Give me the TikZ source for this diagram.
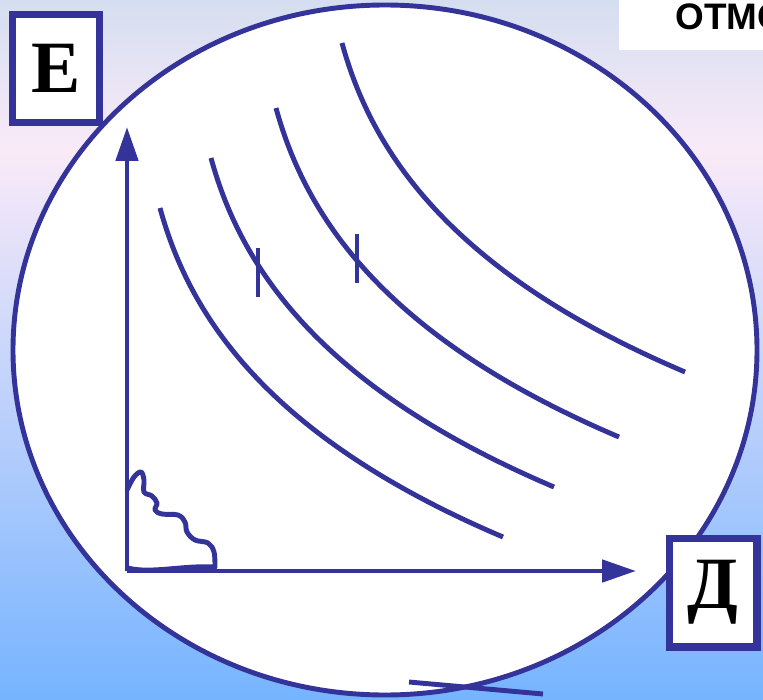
\documentclass[tikz,border=0pt]{standalone}
\usepackage{fontspec}
\setmainfont{Liberation Serif}
\newfontfamily\rotulo{Liberation Sans}
\usepackage{tikz}
\usetikzlibrary{arrows.meta,positioning}
\usepackage{xcolor}

\definecolor{trazo}{RGB}{51,51,153}
\definecolor{fondoA}{RGB}{212,222,240}
\definecolor{fondoB}{RGB}{250,234,248}
\definecolor{fondoC}{RGB}{118,180,255}

\begin{document}
\begin{tikzpicture}[x=0.02cm, y=-0.02cm,
    linea/.style={draw=trazo, line width=2.8pt},
    eje/.style={linea, -{Triangle[length=0.68cm, width=0.44cm]}},
    caja/.style={draw=trazo, line width=4pt, fill=white, inner sep=0pt,
      font=\bfseries\fontsize{42}{42}\selectfont}]
  \useasboundingbox (0,0) rectangle (763,699);
  \clip (0,0) rectangle (763,699);

  % fondo
  \shade[top color=fondoA, bottom color=fondoB] (0,0) rectangle (763,150);
  \shade[top color=fondoB, bottom color=fondoC] (0,150) rectangle (763,699);
  \fill[white] (619,0) rectangle (763,50);
  \node[anchor=base west, inner sep=0pt, font=\rotulo\bfseries\fontsize{21}{21}\selectfont] (titulo) at (675,30) {ОТМС};

  % circulo
  \draw[linea, fill=white] (385,350) ellipse [x radius=372, y radius=345];

  % curvas
  \foreach \dx/\dy in {0/0, 51/-50, 116/-100, 182/-165}
    \draw[linea, shift={(\dx,\dy)}] (160,208) .. controls (190,318) and (270,438) .. (503,537);

  % marcas
  \draw[linea] (258,248) -- (258,297);
  \draw[linea] (357,234) -- (357,283);

  % ejes
  \coordinate (O) at (127,571);
  \coordinate (Ey) at (127,127);
  \coordinate (Dx) at (636,571);
  \draw[eje] (O) -- (Ey);
  \draw[eje] (O) -- (Dx);

  % linea ondulada
  \draw[linea, line join=round] plot[smooth, tension=0.6] coordinates {(127,490) (134,477) (141,472) (144,480) (144,492) (152,496) (157,503) (155,510) (162,514) (178,515) (185,522) (187,532) (195,540) (208,543) (214,552) (215,567)}
    .. controls (185,565) and (150,574) .. (128,568);

  % linea de abajo
  \draw[linea] (409,682) -- (543,694);

  % letras
  \node[caja, minimum width=1.74cm, minimum height=2.16cm] (E) at (56,68.5) {Е};
  \node[caja, minimum width=1.76cm, minimum height=2.18cm] (D) at (713,592.5) {Д};
\end{tikzpicture}
\end{document}
